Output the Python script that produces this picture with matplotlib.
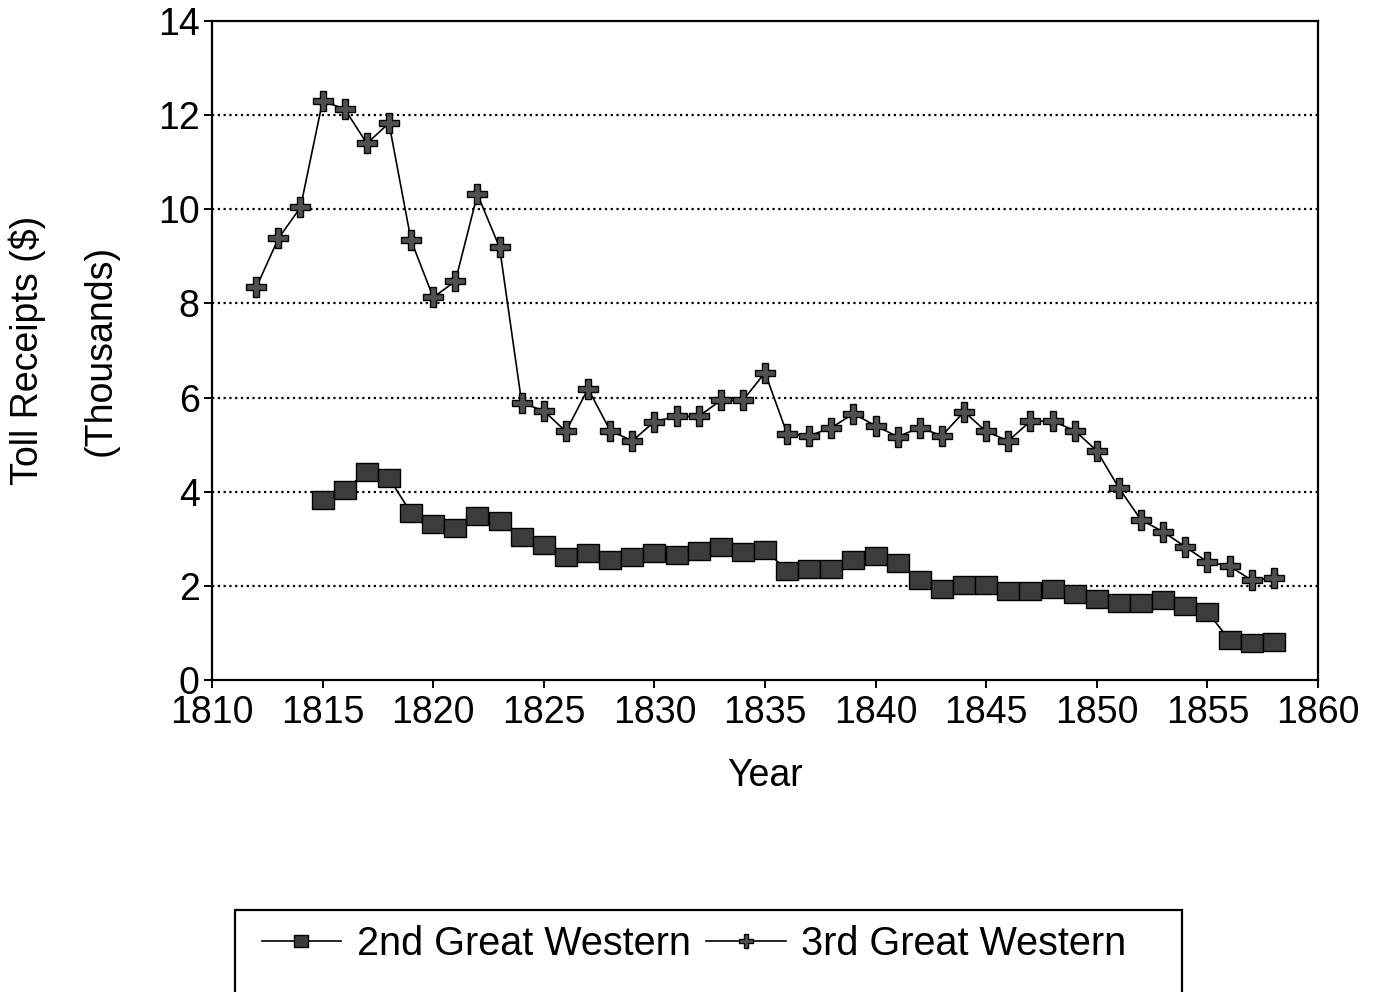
import matplotlib.pyplot as plt
from matplotlib.patches import Rectangle

plt.rcParams["font.family"] = ["Liberation Sans", "DejaVu Sans"]

# toll receipts, thousands of dollars
years_2nd = list(range(1815, 1859))
receipts_2nd = [
    3.82, 4.04, 4.42, 4.29, 3.55, 3.31, 3.23, 3.48, 3.38, 3.04,
    2.87, 2.61, 2.70, 2.55, 2.61, 2.70, 2.66, 2.74, 2.83, 2.72,
    2.77, 2.32, 2.36, 2.36, 2.55, 2.64, 2.49, 2.13, 1.94, 2.02,
    2.02, 1.89, 1.89, 1.94, 1.83, 1.72, 1.64, 1.64, 1.70, 1.57,
    1.45, 0.85, 0.79, 0.81,
]

years_3rd = list(range(1812, 1859))
receipts_3rd = [
    8.34, 9.38, 10.04, 12.30, 12.13, 11.40, 11.83, 9.34, 8.13, 8.47,
    10.32, 9.19, 5.89, 5.72, 5.28, 6.19, 5.30, 5.08, 5.49, 5.60,
    5.60, 5.94, 5.94, 6.53, 5.23, 5.19, 5.36, 5.66, 5.40, 5.17,
    5.36, 5.19, 5.70, 5.28, 5.08, 5.50, 5.50, 5.30, 4.87, 4.08,
    3.40, 3.15, 2.83, 2.51, 2.42, 2.12, 2.17,
]

# squares in the original are a little wider than tall
wide_box = [(-1.2, -1), (1.2, -1), (1.2, 1), (-1.2, 1), (-1.2, -1)]

fig = plt.figure(figsize=(13.83, 9.92), dpi=100)
ax = fig.add_axes([0.1533, 0.3145, 0.7997, 0.6643])

line2, = ax.plot(years_2nd, receipts_2nd, color="black", lw=1.2,
                 marker=wide_box, markersize=16, markerfacecolor="#3c3c3c",
                 markeredgecolor="black", markeredgewidth=1.0,
                 label="2nd Great Western")
line3, = ax.plot(years_3rd, receipts_3rd, color="black", lw=1.2,
                 marker="P", markersize=15, markerfacecolor="#505050",
                 markeredgecolor="black", markeredgewidth=1.0,
                 label="3rd Great Western")

ax.set_xlim(1810, 1860)
ax.set_ylim(0, 14)
ax.set_xticks(range(1810, 1861, 5))
ax.set_yticks(range(0, 15, 2))
for yv in range(2, 14, 2):
    ax.axhline(yv, color="black", lw=1.6, ls=(0, (1.0, 1.6)), zorder=0.5)

for sp in ax.spines.values():
    sp.set_linewidth(1.6)
ax.tick_params(direction="out", length=6, width=1.4, labelsize=27)
ax.tick_params(axis="x", pad=5)
ax.tick_params(axis="y", pad=3)

ax.set_xlabel("Year", fontsize=27, labelpad=19)
ax.set_ylabel("Toll Receipts ($)\n(Thousands)", fontsize=27,
              linespacing=2.3, labelpad=28)

# legend box runs off the bottom edge of the page, as in the original
fig.add_artist(Rectangle((235 / 1383, -0.05), (1182 - 235) / 1383,
                         (992 - 910) / 992 + 0.05, transform=fig.transFigure,
                         facecolor="white", edgecolor="black", lw=1.6))
fig.legend(handles=[line2, line3], loc="center left",
           bbox_to_anchor=(226 / 1383, 1 - 944 / 992), ncol=2,
           frameon=False, fontsize=28.5, handlelength=2.0,
           columnspacing=0.4, handletextpad=0.4, markerscale=0.65)

fig.savefig("out.png", dpi=100)
